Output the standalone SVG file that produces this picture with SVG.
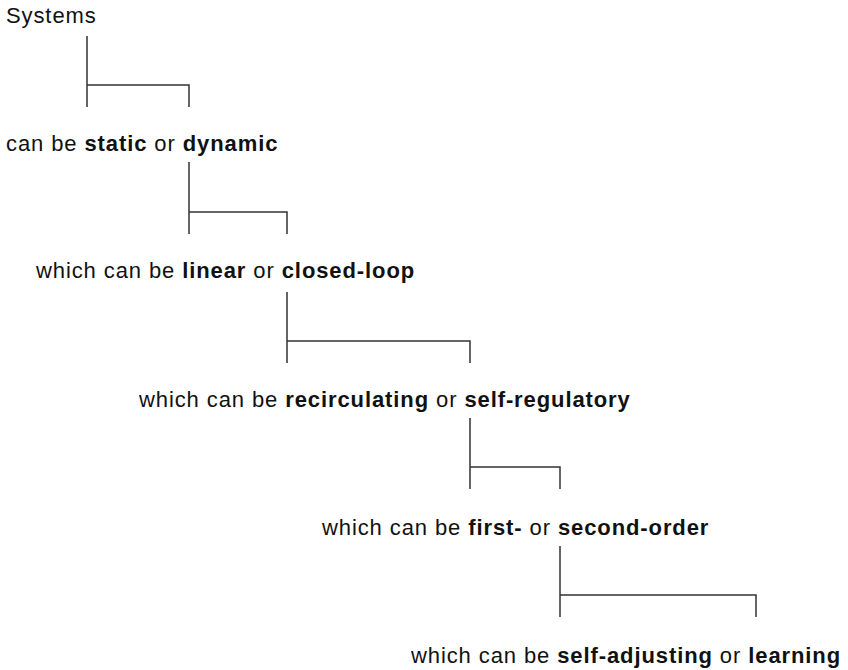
<svg xmlns="http://www.w3.org/2000/svg" width="848" height="670" viewBox="0 0 848 670">
<style>
text{font-family:"Liberation Sans",Arial,sans-serif;font-size:22px;letter-spacing:0.9px;fill:#111}
.b{font-weight:bold}
.c{fill:none;stroke:#333;stroke-width:1.5}
</style>
<rect width="848" height="670" fill="#fff"/>
<g id="n1"><text x="6" y="23">Systems</text></g>
<g id="n2"><text x="6" y="151">can be <tspan class="b">static</tspan> or <tspan class="b">dynamic</tspan></text></g>
<g id="n3"><text x="36" y="278">which can be <tspan class="b">linear</tspan> or <tspan class="b">closed-loop</tspan></text></g>
<g id="n4"><text x="139" y="407">which can be <tspan class="b">recirculating</tspan> or <tspan class="b">self-regulatory</tspan></text></g>
<g id="n5"><text x="322" y="535">which can be <tspan class="b">first-</tspan> or <tspan class="b">second-order</tspan></text></g>
<g id="n6"><text x="411" y="663">which can be <tspan class="b">self-adjusting</tspan> or <tspan class="b">learning</tspan></text></g>
<g id="connectors">
<path class="c" d="M87,36V107M87,85H189V107"/>
<path class="c" d="M189,162V234M189,212H287V234"/>
<path class="c" d="M287,292V363M287,341H470V363"/>
<path class="c" d="M470,418V489M470,467H560V489"/>
<path class="c" d="M560,546V617M560,595H756V617"/>
</g>
</svg>
